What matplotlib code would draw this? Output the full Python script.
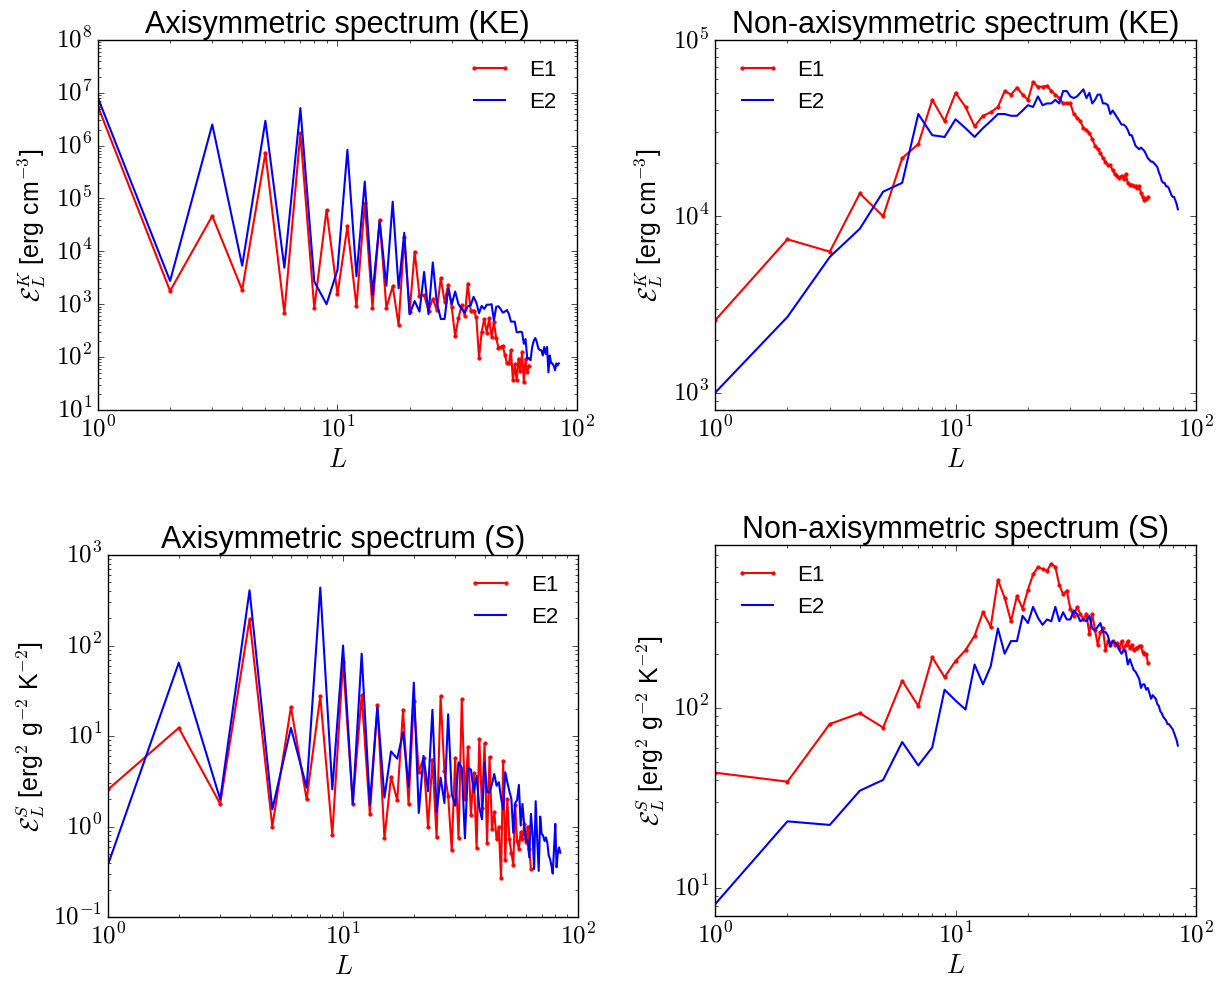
import numpy as np
import matplotlib
matplotlib.use('Agg')
import matplotlib.pyplot as plt
from matplotlib.ticker import FuncFormatter

plt.style.use('classic')
plt.rcParams['font.family'] = ['Liberation Sans', 'DejaVu Sans']
plt.rcParams['mathtext.fontset'] = 'cm'
plt.rcParams['figure.facecolor'] = 'white'
plt.rcParams['savefig.facecolor'] = 'white'

# spherical harmonic degree
L_e1 = np.arange(1, 64)
L_e2 = np.arange(1, 85)

# values, stored as log10
ke_axi_e1 = [6.74, 3.25, 4.67, 3.27, 5.86, 2.83, 6.23, 2.92, 4.78, 3.19,
             4.47, 2.96, 4.91, 2.93, 4.60, 2.93, 3.34, 2.61, 4.27, 2.85,
             3.99, 3.16, 3.17, 2.88, 3.10, 2.89, 3.49, 3.05, 3.37, 2.94,
             2.39, 2.74, 2.98, 2.78, 3.39, 2.88, 2.88, 2.75, 1.98, 2.48,
             2.72, 2.46, 2.73, 2.38, 2.66, 2.36, 2.18, 2.19, 2.21, 2.04,
             1.88, 1.88, 2.13, 1.56, 1.86, 1.56, 1.97, 1.73, 2.09, 1.52,
             1.97, 1.72, 1.84]
ke_axi_e2 = [6.90, 3.44, 6.40, 3.73, 6.47, 3.69, 6.71, 3.43, 3.00, 3.65,
             5.92, 3.53, 5.32, 3.18, 4.57, 3.35, 4.94, 3.30, 4.35, 2.81,
             3.06, 2.86, 3.61, 2.81, 3.79, 3.03, 2.72, 2.72, 3.29, 3.00,
             3.24, 3.00, 2.91, 2.84, 2.96, 2.98, 3.14, 3.03, 2.83, 2.97,
             2.91, 2.99, 2.99, 3.00, 2.69, 2.95, 2.96, 2.91, 2.84, 2.86,
             2.89, 2.81, 2.67, 2.67, 2.67, 2.47, 2.47, 2.48, 2.47, 2.25,
             2.34, 1.97, 1.98, 1.94, 2.19, 2.31, 2.36, 2.28, 2.16, 2.13,
             2.13, 2.03, 2.19, 2.06, 2.19, 1.71, 2.03, 1.88, 1.88, 1.83,
             1.75, 1.88, 1.84, 1.88]

ke_non_e1 = [3.41, 3.87, 3.80, 4.13, 4.00, 4.33, 4.41, 4.66, 4.54, 4.70,
             4.62, 4.51, 4.57, 4.59, 4.62, 4.71, 4.69, 4.73, 4.69, 4.66,
             4.76, 4.735, 4.735, 4.74, 4.71, 4.69, 4.67, 4.64, 4.64, 4.64,
             4.58, 4.56, 4.54, 4.50, 4.49, 4.47, 4.44, 4.40, 4.38, 4.36,
             4.33, 4.31, 4.29, 4.29, 4.26, 4.24, 4.23, 4.22, 4.23, 4.21,
             4.24, 4.19, 4.18, 4.18, 4.17, 4.17, 4.16, 4.17, 4.13, 4.11,
             4.09, 4.10, 4.11]
ke_non_e2 = [3.00, 3.43, 3.77, 3.93, 4.14, 4.19, 4.58, 4.46, 4.45, 4.55,
             4.50, 4.45, 4.50, 4.54, 4.58, 4.58, 4.57, 4.57, 4.60, 4.63,
             4.62, 4.68, 4.63, 4.64, 4.64, 4.66, 4.64, 4.71, 4.71, 4.68,
             4.67, 4.68, 4.70, 4.72, 4.67, 4.70, 4.64, 4.66, 4.69, 4.69,
             4.64, 4.64, 4.63, 4.58, 4.60, 4.58, 4.56, 4.54, 4.52, 4.52,
             4.51, 4.49, 4.46, 4.46, 4.43, 4.40, 4.39, 4.38, 4.39, 4.38,
             4.37, 4.35, 4.33, 4.32, 4.31, 4.31, 4.30, 4.29, 4.28, 4.25,
             4.23, 4.20, 4.19, 4.19, 4.17, 4.17, 4.16, 4.14, 4.12, 4.11,
             4.11, 4.09, 4.07, 4.04]

s_axi_e1 = [0.41, 1.09, 0.25, 2.29, 0.00, 1.32, 0.30, 1.44, -0.09, 1.82,
            0.25, 1.45, 0.14, 1.34, -0.13, 0.55, 0.29, 1.29, 0.25, 1.39,
            0.60, 0.76, -0.01, 0.74, -0.12, 1.44, 0.61, 0.34, -0.26, 0.76,
            -0.13, 1.41, 0.30, 0.88, 0.13, 0.59, -0.24, 0.97, 0.21, 0.92,
            -0.18, 0.77, -0.03, 0.16, -0.14, -0.01, -0.57, 0.72, -0.37, 0.30,
            -0.14, -0.29, -0.42, 0.24, -0.16, -0.25, -0.06, -0.14, 0.03, -0.17,
            0.00, -0.25, -0.47]
s_axi_e2 = [-0.42, 1.81, 0.30, 2.61, 0.19, 1.09, 0.43, 2.64, 0.41, 2.00,
            0.25, 1.91, 0.24, 1.32, 0.32, 0.83, 0.75, 1.04, 0.44, 1.59,
            0.15, 0.78, 0.39, 1.29, 0.16, 0.54, 0.26, 1.24, 0.36, 0.23,
            0.71, 0.65, -0.13, 0.65, 0.63, 0.38, 0.56, 0.21, 0.08, 0.71,
            0.38, 0.38, 0.47, 0.58, 0.45, 0.49, 0.32, 0.19, 0.60, 0.49,
            0.39, 0.31, -0.07, 0.26, 0.29, 0.46, 0.01, 0.25, 0.01, -0.16,
            -0.15, -0.34, 0.14, -0.08, -0.47, 0.28, -0.14, -0.49, 0.11, -0.08,
            -0.10, -0.16, -0.12, -0.18, -0.32, -0.36, -0.43, -0.52, -0.25, 0.03,
            -0.45, -0.29, -0.23, -0.29]

s_non_e1 = [1.64, 1.59, 1.91, 1.97, 1.89, 2.15, 2.01, 2.28, 2.17, 2.26,
            2.32, 2.40, 2.53, 2.45, 2.71, 2.61, 2.48, 2.62, 2.55, 2.655,
            2.74, 2.78, 2.77, 2.76, 2.80, 2.78, 2.68, 2.63, 2.65, 2.55,
            2.51, 2.56, 2.52, 2.49, 2.52, 2.41, 2.52, 2.43, 2.35, 2.42,
            2.44, 2.32, 2.37, 2.35, 2.37, 2.35, 2.36, 2.33, 2.37, 2.32,
            2.35, 2.37, 2.33, 2.35, 2.32, 2.33, 2.33, 2.34, 2.34, 2.31,
            2.30, 2.30, 2.25]
s_non_e2 = [0.91, 1.37, 1.35, 1.54, 1.60, 1.81, 1.68, 1.78, 2.10, 2.04,
            1.99, 2.24, 2.13, 2.23, 2.44, 2.30, 2.37, 2.37, 2.51, 2.47,
            2.56, 2.50, 2.46, 2.49, 2.48, 2.56, 2.48, 2.53, 2.49, 2.49,
            2.54, 2.52, 2.48, 2.49, 2.48, 2.51, 2.44, 2.43, 2.45, 2.47,
            2.42, 2.42, 2.40, 2.34, 2.37, 2.36, 2.35, 2.32, 2.30, 2.32,
            2.31, 2.24, 2.27, 2.24, 2.21, 2.20, 2.18, 2.16, 2.11, 2.13,
            2.13, 2.10, 2.11, 2.08, 2.05, 2.07, 2.06, 2.05, 2.02, 2.01,
            1.98, 1.97, 1.95, 1.94, 1.93, 1.91, 1.91, 1.90, 1.89, 1.88,
            1.86, 1.84, 1.82, 1.79]

ke_label = r'$\mathcal{E}_L^K$ [erg cm$^{-3}$]'
s_label = r'$\mathcal{E}_L^S$ [erg$^2$ g$^{-2}$ K$^{-2}$]'

panels = [
    ([0.080, 0.583, 0.391, 0.3764], 'Axisymmetric spectrum (KE)', ke_axi_e1, ke_axi_e2, ke_label, (1e1, 1e8), 'upper right'),
    ([0.5837, 0.583, 0.3927, 0.3764], 'Non-axisymmetric spectrum (KE)', ke_non_e1, ke_non_e2, ke_label, (8e2, 1e5), 'upper left'),
    ([0.0882, 0.0671, 0.3837, 0.3683], 'Axisymmetric spectrum (S)', s_axi_e1, s_axi_e2, s_label, (1e-1, 1e3), 'upper right'),
    ([0.5837, 0.0682, 0.3927, 0.3774], 'Non-axisymmetric spectrum (S)', s_non_e1, s_non_e2, s_label, (7, 8e2), 'upper left'),
]

# decade labels in computer modern, like old matplotlib
decades = FuncFormatter(lambda v, pos: r'$10^{%d}$' % int(round(np.log10(v))))

fig = plt.figure(figsize=(12.25, 9.83), dpi=100)

for rect, title, e1, e2, ylab, ylim, loc in panels:
    ax = fig.add_axes(rect)
    ax.loglog(L_e1, 10.0 ** np.array(e1), 'r.-', lw=1.5, ms=5, label='E1')
    ax.loglog(L_e2, 10.0 ** np.array(e2), 'b-', lw=1.5, label='E2')
    ax.set_xlim(1, 100)
    ax.set_ylim(*ylim)
    ax.xaxis.set_major_formatter(decades)
    ax.yaxis.set_major_formatter(decades)
    ax.set_title(title, fontsize=22)
    ax.set_xlabel(r'$L$', fontsize=19)
    ax.set_ylabel(ylab, fontsize=18)
    ax.tick_params(labelsize=18)
    ax.legend(loc=loc, frameon=False, fontsize=16)

fig.savefig('out.png', dpi=100)
